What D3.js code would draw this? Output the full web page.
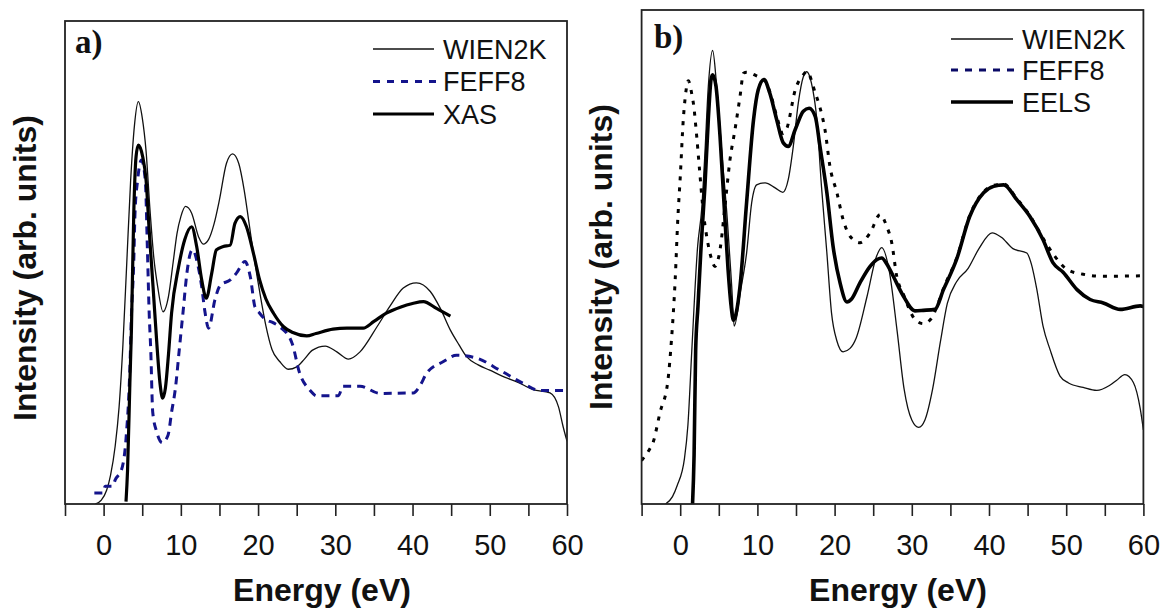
<!DOCTYPE html>
<html><head><meta charset="utf-8">
<script src="https://cdn.jsdelivr.net/npm/d3@7"></script>
<style>
html,body{margin:0;padding:0;background:#fff;}
svg{display:block;}
</style></head>
<body>
<svg id="chart" width="1165" height="609"></svg>
<script>
// ---------- data ----------
const tickValues = [-5,0,5,10,15,20,25,30,35,40,45,50,55,60];
const tickLabels = ["", "0", "", "10", "", "20", "", "30", "", "40", "", "50", "", "60"];
const xTitle = "Energy (eV)";
const yTitle = "Intensity (arb. units)";

// panel a
const aWienE = [-1.1,-0.3,0.4,0.9,1.5,2.0,2.5,3.0,3.5,4.0,4.5,5.0,5.5,6.0,6.5,7.0,7.7,8.4,9.0,9.5,10.0,10.6,11.4,12.3,12.9,13.6,14.3,15.0,15.9,16.7,17.5,18.2,18.8,19.4,20.2,21.0,21.8,22.8,23.9,25.0,26.0,27.0,28.7,30.2,31.7,33.2,35.4,37.1,38.8,40.5,42.3,43.6,44.9,46.0,47.0,48.5,50.0,52.0,53.5,55.6,57.8,58.9,59.5,60];
const aWienI = [0,0.8,2.9,6,12,20,33,50,67,78.5,83.3,80,73,61,51,45,39.8,43,50,56,59.5,61.6,60.2,55.3,53.8,54.8,58,63,70.5,72.5,70.5,65,58.5,51.9,44,37,32,29.5,27.9,28.4,30,31.8,32.7,31.5,30,31.5,36.7,41,44.7,45.8,44,40.5,36,33,30.5,28.8,27.7,26.2,25.3,23.7,23,20.1,16,13];

const aFeffE = [-1.2,-0.1,0.2,1.2,1.5,2.3,2.9,3.4,3.6,3.9,4.06,4.4,4.9,5.4,5.66,5.9,6.1,6.36,6.86,7.6,8.35,8.8,9.3,9.8,10.3,10.8,11.4,11.6,12.05,12.7,13.1,13.6,14.4,15.1,16.4,17.2,18.3,19.0,19.6,20.2,20.8,22.0,22.8,24.4,25.4,26.7,27.6,30.4,31.0,33.2,35.8,40.1,41.0,41.8,44.0,45.7,48.3,51.3,54.3,56.5,60];
const aFeffI = [2.3,2.3,3.7,3.7,5,7,13.5,28,39,50,60,67,71.2,67,53.3,39.5,32,19,15,12.7,14.3,19,24,32,40,48,52.5,52.6,50.5,45,40,36.4,42.2,45.3,46.4,47.8,50.2,47,40.8,39.5,38.4,37.5,36.7,33.3,27,23.6,22.4,22.4,24.4,24.4,22.9,23,24.6,27,29.5,30.8,30.2,27.7,25,23.5,23.5];

const aXasE = [2.9,3.1,3.4,3.6,3.9,4.2,4.5,5.06,5.5,5.9,6.4,6.9,7.3,7.65,8.0,8.4,8.8,9.7,10.5,11.4,12.05,12.7,13.3,14.0,14.6,15.5,16.4,17.0,17.7,18.5,19.4,20.2,21.0,22.0,23.3,24.5,26.3,27.5,29.7,31.5,33.6,35.0,36.6,38.5,40.0,41.4,43.1,44.9];
const aXasI = [0.5,7,25,36,60,71.9,74.3,71.9,67,56.7,45,33,25,21.9,24,31,39.5,49,54.7,57.4,53.3,46.4,42.6,47.8,52.6,53.3,53.6,58.1,59.5,57.4,51.9,46.4,42.5,39.5,36.7,35.5,34.8,35.3,36.2,36.4,36.4,37.8,39.5,40.8,41.5,41.9,40.5,38.9];

// panel b
const bWienE = [-1.9,-1.0,-0.4,0.55,1.0,1.5,2.25,2.8,3.2,3.64,4.2,4.73,5.4,6.1,6.67,7.0,7.8,8.6,9.26,9.9,11.0,12.3,13.3,14.0,14.65,15.3,15.95,16.4,17.0,17.7,18.3,19.0,19.6,20.3,21.1,22.0,22.8,24.2,25.4,26.1,27.1,28.1,29.0,30.0,30.9,31.7,32.7,33.7,34.6,35.8,37.3,38.7,40.4,41.6,43.1,44.9,45.5,46.2,47.0,47.9,49.2,50.3,52.2,53.95,55.6,56.5,57.6,58.7,59.6,60];
const bWienI = [0,1.5,3.7,9.2,16,31,52,60,71,84.5,91.8,84.5,71,57.6,44.1,36,43,50.8,61,64.6,65,64,63.1,65.7,72.4,81.2,86.5,87.5,85.2,77.8,64.3,50.8,38.7,33,30.8,31.5,33.6,42,50,51.9,47,35,23.3,17,15.5,17,23.3,32.8,40.6,45,47.7,51.7,54.9,54,51.7,50.8,48.5,43.4,36,31.3,25.9,24.5,23.6,23,24,25,26.2,24.6,19.2,15];

const bFeffE = [-5,-4.0,-3.55,-2.6,-1.6,-1.15,-0.65,-0.3,0,0.4,0.7,1.05,1.5,1.7,2.14,2.47,3.0,3.43,4.08,4.5,5.16,5.8,6.45,7.1,7.75,8.2,8.6,10.0,10.8,11.6,12.5,13.3,13.8,14.9,15.95,16.4,17.5,18.3,18.75,19.4,20.3,21.1,22.0,23.3,24.6,25.9,26.75,27.4,28.05,28.9,30.4,31.5,32.5,33.5,34.1,35.8,37.5,39.3,40.6,41.9,43.6,45.3,47.0,48.5,50.1,52.2,54.8,60];
const bFeffI = [8.8,11,12.3,18.6,24.9,32.8,45.4,58,66,77.8,83,85.7,83,81.2,74.4,68.3,59,54.2,49.5,48.1,51.5,60.3,69.7,75.8,82.5,87.2,87.4,86.6,86,83.5,78.5,75,76,83.8,86.9,87.5,83.2,79.1,75.8,68.3,63,57.6,54.2,52.9,54.9,58.6,56.2,52.9,46.1,42.5,37.4,36.5,37.5,41,43.6,49.7,58.4,63.2,64.5,64.8,61.8,58.4,53.8,50.2,47.5,46.5,46.1,46.2];

const bEelsE = [1.6,1.8,2.0,2.3,2.7,3.2,3.64,3.99,4.2,4.64,5.16,5.67,6.2,6.6,6.9,7.3,7.75,8.6,9.5,10.1,10.85,11.6,12.5,13.35,14.0,14.9,15.95,16.7,17.5,18.1,19.0,19.8,20.7,21.6,22.2,23.3,24.6,25.5,26.1,26.8,27.6,28.9,30.4,31.5,33.0,34.1,35.8,37.5,39.3,40.6,41.9,43.6,45.3,47.0,48.3,49.6,51.4,53.1,54.8,57.0,59.6,60];
const bEelsI = [0,10,31,40,52,64.3,77.8,85.9,86.9,84.5,74.4,61,47.5,40,37.2,39,44.1,61,77.8,83.8,85.9,83.2,77.8,73.1,72.4,75.8,79.5,80.1,78.4,72.4,63,52.2,44.8,40.9,41.5,44.8,48.1,49.5,49.8,48.5,46.1,42.1,39.1,39.2,39.4,43.4,49.5,58.2,63,64.3,64.6,61.6,58.2,53.5,48.8,46.9,43.4,41.4,40.7,39.4,40.1,40];

const legendA = ["WIEN2K","FEFF8","XAS"];
const legendB = ["WIEN2K","FEFF8","EELS"];

// ---------- drawing ----------
const svg = d3.select("#chart");
const FONT = "'Liberation Sans', Arial, Helvetica, sans-serif";
const SERIF = "'Liberation Serif', 'Times New Roman', serif";

function zip(E, I){ return E.map((e,i)=>[e, I[i]]); }

function panel(cfg){
  const x = d3.scaleLinear().domain([-5,60]).range([cfg.left, cfg.right]);
  const y = d3.scaleLinear().domain([0,100]).range([cfg.bottom, cfg.top]);
  const g = svg.append("g");
  const clipId = "clip" + cfg.id;
  svg.append("clipPath").attr("id", clipId).append("rect")
    .attr("x", cfg.left).attr("y", cfg.top)
    .attr("width", cfg.right - cfg.left).attr("height", cfg.bottom - cfg.top);

  // axis
  const ax = d3.axisBottom(x).tickValues(tickValues).tickSize(12).tickPadding(18)
    .tickFormat((d,i)=>tickLabels[i]);
  const axg = g.append("g").attr("transform", `translate(0,${cfg.bottom})`).call(ax);
  axg.select(".domain").remove();
  axg.selectAll(".tick line").attr("stroke", "#222").attr("stroke-width", 1.6);
  axg.selectAll(".tick text").attr("font-family", FONT).attr("font-size", 29).attr("fill", "#111");

  const line = d3.line().x(d=>x(d[0])).y(d=>y(d[1])).curve(d3.curveMonotoneX);
  const lg = g.append("g").attr("clip-path", `url(#${clipId})`);
  cfg.series.forEach(s=>{
    lg.append("path").attr("d", line(zip(s.E, s.I)))
      .attr("fill","none").attr("stroke", s.color).attr("stroke-width", s.width)
      .attr("stroke-dasharray", s.dash || null).attr("stroke-linejoin","round");
  });

  // frame
  g.append("rect").attr("x", cfg.left).attr("y", cfg.top)
    .attr("width", cfg.right - cfg.left).attr("height", cfg.bottom - cfg.top)
    .attr("fill","none").attr("stroke","#222").attr("stroke-width",1.8);

  // panel label
  g.append("text").attr("x", cfg.labX).attr("y", cfg.labY).text(cfg.label)
    .attr("font-family", SERIF).attr("font-weight","bold").attr("font-size", 33).attr("fill","#111");

  // legend
  cfg.legend.forEach((name,i)=>{
    const s = cfg.series[i];
    const ly = cfg.legY[i];
    g.append("line").attr("x1", cfg.legX1).attr("x2", cfg.legX2 + (s.legExt||0))
      .attr("y1", ly).attr("y2", ly)
      .attr("stroke", s.legColor || s.color).attr("stroke-width", s.legWidth || s.width)
      .attr("stroke-dasharray", s.legDash || s.dash || null);
    g.append("text").attr("x", cfg.legTX).attr("y", ly + 9.5).text(name)
      .attr("font-family", FONT).attr("font-size", 27).attr("fill","#111");
  });

  // axis titles
  g.append("text").attr("x", cfg.xtX).attr("y", 601).attr("text-anchor","middle")
    .text(xTitle).attr("font-family", FONT).attr("font-weight","bold").attr("font-size", 32).attr("fill","#111");
  g.append("text").attr("transform", `translate(${cfg.ytX},${cfg.ytY}) rotate(-90)`)
    .attr("text-anchor","middle").text(yTitle)
    .attr("font-family", FONT).attr("font-weight","bold").attr("font-size", 32).attr("fill","#111");
}

panel({
  id:"a", left:65, right:567, top:21, bottom:504,
  label:"a)", labX:75, labY:53,
  legX1:373, legX2:434, legTX:443, legY:[49,81.5,114],
  legend: legendA,
  xtX:322, ytX:36, ytY:268,
  series:[
    {E:aWienE, I:aWienI, color:"#111", width:1.3},
    {E:aFeffE, I:aFeffI, color:"#14148c", width:3, dash:"8,6", legDash:"7,7", legExt:6},
    {E:aXasE, I:aXasI, color:"#000", width:3.2}
  ]
});

panel({
  id:"b", left:641.6, right:1143.4, top:10, bottom:504,
  label:"b)", labX:654, labY:48,
  legX1:951, legX2:1013, legTX:1022, legY:[39,70,102],
  legend: legendB,
  xtX:898, ytX:612, ytY:257,
  series:[
    {E:bWienE, I:bWienI, color:"#111", width:1.3},
    {E:bFeffE, I:bFeffI, color:"#000", width:3, dash:"4,7", legColor:"#0a0a66", legDash:"7,7", legExt:3},
    {E:bEelsE, I:bEelsI, color:"#000", width:3.6}
  ]
});
</script>
</body></html>
